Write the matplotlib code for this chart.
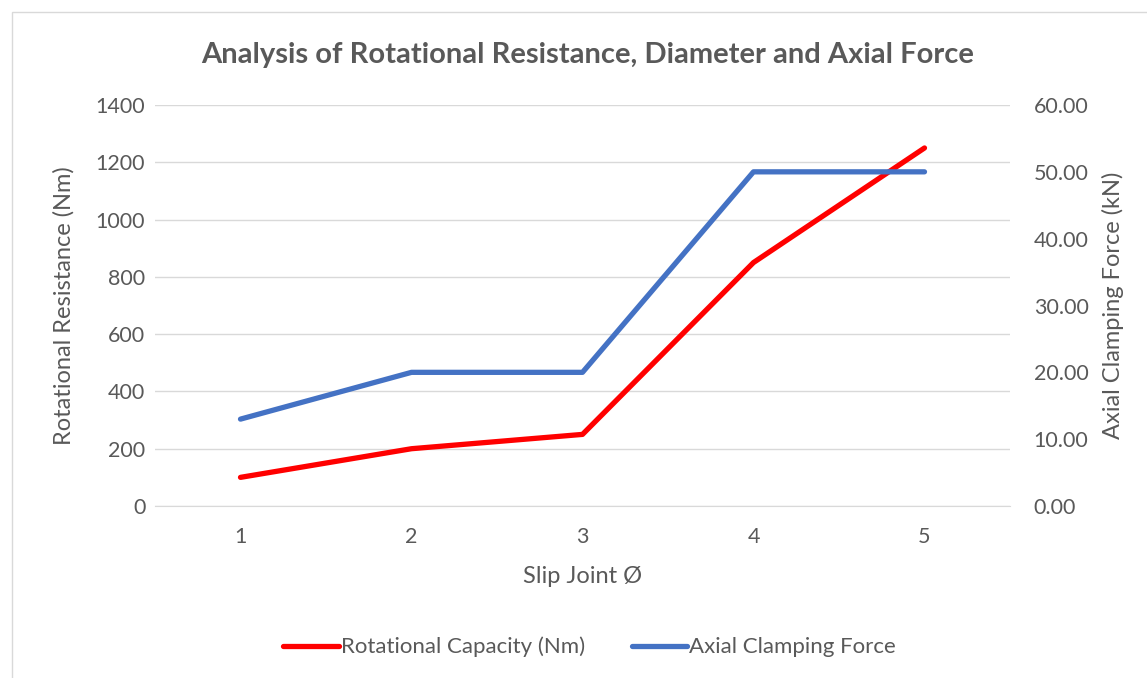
import matplotlib.pyplot as plt
from matplotlib.patches import Rectangle

# data
slip_joint = [1, 2, 3, 4, 5]
rotational_capacity = [100, 200, 250, 850, 1250]   # Nm, left axis
axial_force = [13.0, 20.0, 20.0, 50.0, 50.0]       # kN, right axis

plt.rcParams['font.family'] = ['Lato', 'DejaVu Sans']
grey = '#595959'

fig = plt.figure(figsize=(11.47, 6.78), dpi=100)

# chart area border
fig.patches.append(Rectangle((12 / 1147, 0 - 0.01), 1.2, 1 - 12 / 678 + 0.01,
                             transform=fig.transFigure, fill=False,
                             edgecolor='#d9d9d9', linewidth=1))

ax = fig.add_axes([155 / 1147, 1 - 506 / 678, 855 / 1147, 401 / 678])
ax2 = ax.twinx()

line1, = ax.plot(slip_joint, rotational_capacity, color='#FF0000', linewidth=3.8,
                 solid_capstyle='round', solid_joinstyle='round',
                 label='Rotational Capacity (Nm)', zorder=3)
line2, = ax2.plot(slip_joint, axial_force, color='#4472C4', linewidth=3.8,
                  solid_capstyle='round', solid_joinstyle='round',
                  label='Axial Clamping Force', zorder=3)

ax.set_xlim(0.5, 5.5)
ax.set_ylim(0, 1400)
ax.set_yticks(range(0, 1401, 200))
ax2.set_ylim(0, 60)
ax2.set_yticks(range(0, 61, 10))
ax2.set_yticklabels([f'{v:.2f}' for v in range(0, 61, 10)])
ax.set_xticks(slip_joint)

ax.grid(axis='y', color='#d9d9d9', linewidth=1)
ax.set_axisbelow(True)
for a in (ax, ax2):
    for s in a.spines.values():
        s.set_visible(False)
    a.tick_params(length=0, colors=grey, labelsize=15.5)
ax.spines['bottom'].set_visible(True)
ax.spines['bottom'].set_color('#d9d9d9')
ax.tick_params(axis='y', pad=7)
ax.tick_params(axis='x', pad=15)
ax2.tick_params(axis='y', pad=17)

ax.set_xlabel('Slip Joint Ø', color=grey, fontsize=17, labelpad=14)
ax.set_ylabel('Rotational Resistance (Nm)', color=grey, fontsize=17, labelpad=15)
ax2.set_ylabel('Axial Clamping Force (kN)', color=grey, fontsize=17, labelpad=10)

fig.text(0.512, 1 - 55 / 678, 'Analysis of Rotational Resistance, Diameter and Axial Force',
         ha='center', va='center', fontsize=21, fontweight='bold', color=grey)

fig.legend(handles=[line1, line2], loc='center', bbox_to_anchor=(0.514, 1 - 647 / 678),
           ncol=2, frameon=False, fontsize=16, handlelength=2.5, handletextpad=0.1,
           columnspacing=2.1, labelcolor=grey)

fig.savefig('out.png', dpi=100)
